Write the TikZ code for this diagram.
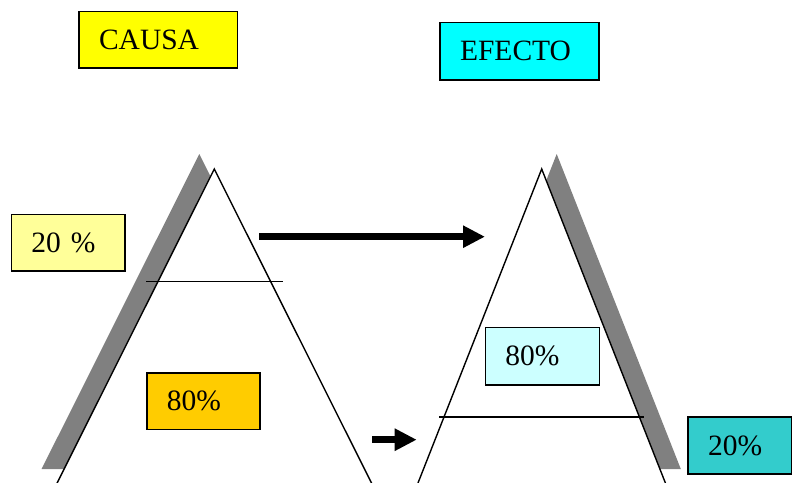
\documentclass[tikz,border=0pt]{standalone}
\usepackage{fontspec}
\setmainfont{Liberation Serif}
\usetikzlibrary{arrows.meta}
\definecolor{causaY}{HTML}{FFFF00}
\definecolor{efectoC}{HTML}{00FFFF}
\definecolor{lightY}{HTML}{FFFF99}
\definecolor{goldY}{HTML}{FFCC00}
\definecolor{lightC}{HTML}{CCFFFF}
\definecolor{tealC}{HTML}{33CCCC}
\definecolor{shadowG}{HTML}{808080}
\tikzset{
  lbox/.style={draw=black, line width=1.5pt, rectangle, anchor=north west,
    inner xsep=20pt, inner ysep=0pt, align=left,
    font=\fontsize{29.5}{31}\selectfont},
  tri/.style={draw=black, line width=1.4pt, fill=white, line join=miter},
  shade/.style={fill=shadowG, draw=none},
  divline/.style={draw=black, line width=1.1pt},
  bigarrow/.style={line width=6.5pt, -{Triangle[length=22pt,width=21pt]}},
}
\begin{document}
\begin{tikzpicture}[x=1pt,y=-1pt]
\clip (0,0) rectangle (792,482);
\fill[white] (0,0) rectangle (792,482);

% left triangle (CAUSA)
\fill[shade] (199.3,154) -- (41.6,469) -- (357,469) -- cycle;
\draw[tri] (214.3,169) -- (56.6,484) -- (372,484) -- cycle;
\coordinate (l1) at (146,281.7);
\coordinate (l2) at (282.7,281.7);
\draw[divline] (l1) -- (l2);

% right triangle (EFECTO)
\fill[shade] (556.7,154) -- (432.6,469) -- (680.8,469) -- cycle;
\draw[tri] (541.7,169) -- (417.6,484) -- (665.8,484) -- cycle;
\coordinate (r1) at (439.3,417);
\coordinate (r2) at (644,417);
\draw[divline] (r1) -- (r2);

% title boxes
\node[lbox, fill=causaY, text width=118.4pt, minimum height=56.6pt] (causa) at (78.3,10.7) {CAUSA};
\node[lbox, fill=efectoC, text width=119pt, minimum height=57.3pt] (efecto) at (439.3,21.7) {EFECTO};

% percentage boxes
\node[lbox, fill=lightY, text width=73.3pt, minimum height=56.6pt] (c20) at (10.7,213.7) {20 \%};
\node[lbox, fill=goldY, text width=73.3pt, minimum height=56.7pt] (c80) at (146,372) {80\%};
\node[lbox, fill=lightC, text width=74pt, minimum height=57.3pt] (e80) at (484.7,326.7) {80\%};
\node[lbox, fill=tealC, text width=63.6pt, minimum height=57.3pt] (e20) at (687.3,416) {20\%};

% arrows
\coordinate (a1s) at (259.3,236.7);
\coordinate (a1e) at (485,236.7);
\draw[bigarrow] (a1s) -- (a1e);
\coordinate (a2s) at (372.3,439.7);
\coordinate (a2e) at (416.7,439.7);
\draw[bigarrow] (a2s) -- (a2e);
\end{tikzpicture}
\end{document}
